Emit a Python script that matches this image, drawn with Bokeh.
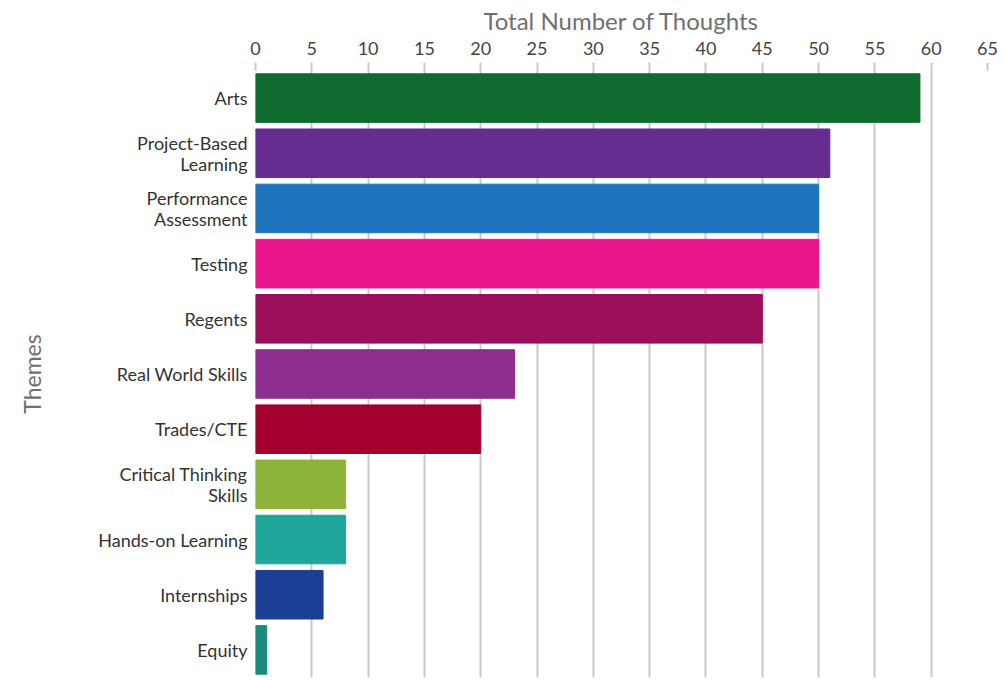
from bokeh.plotting import figure
from bokeh.models import FactorRange, Range1d, FixedTicker, ColumnDataSource
from bokeh.embed import file_html
from bokeh.resources import INLINE

themes = ["Arts", "Project-Based\nLearning", "Performance\nAssessment", "Testing", "Regents",
          "Real World Skills", "Trades/CTE", "Critical Thinking\nSkills", "Hands-on Learning",
          "Internships", "Equity"]
counts = [59, 51, 50, 50, 45, 23, 20, 8, 8, 6, 1]
colors = ["#0f6b30", "#652d90", "#1f75bd", "#ec168c", "#9b0f5b", "#8e2f8f", "#a4002d",
          "#8db33a", "#1ea69a", "#1b3f94", "#1a8a7a"]
x_ticks = list(range(0, 70, 5))

src = ColumnDataSource(dict(theme=themes, count=counts, color=colors))

p = figure(width=1005, height=680, y_range=FactorRange(*reversed(themes)),
           x_range=Range1d(0, 65), x_axis_location="above",
           output_backend="svg", toolbar_location=None,
           min_border_left=255, min_border_right=18, min_border_top=70, min_border_bottom=3)
p.outline_line_color = None
p.hbar(y="theme", right="count", left=0, height=0.88, color="color", source=src)

p.xaxis.ticker = FixedTicker(ticks=x_ticks)
p.xaxis.axis_label = "Total Number of Thoughts"
p.xaxis.axis_label_text_font = "Lato"
p.xaxis.axis_label_text_font_style = "normal"
p.xaxis.axis_label_text_font_size = "24px"
p.xaxis.axis_label_text_color = "#707070"
p.xaxis.axis_label_standoff = 4
p.xaxis.major_label_text_font = "Lato"
p.xaxis.major_label_text_font_size = "18px"
p.xaxis.major_label_text_color = "#444444"
p.xaxis.major_label_standoff = 8
p.xaxis.axis_line_color = None
p.xaxis.major_tick_in = 0
p.xaxis.major_tick_out = 8
p.xaxis.major_tick_line_color = "#c8c8c8"
p.xaxis.major_tick_line_width = 2
p.xaxis.minor_tick_line_color = None

p.yaxis.axis_label = "Themes"
p.yaxis.axis_label_text_font = "Lato"
p.yaxis.axis_label_text_font_style = "normal"
p.yaxis.axis_label_text_font_size = "23px"
p.yaxis.axis_label_text_color = "#707070"
p.yaxis.axis_label_standoff = 49
p.yaxis.major_label_text_font = "Lato"
p.yaxis.major_label_text_font_size = "18px"
p.yaxis.major_label_text_color = "#333333"
p.yaxis.major_label_text_line_height = 0.95
p.yaxis.major_label_standoff = 2
p.yaxis.axis_line_color = None
p.yaxis.major_tick_line_color = None
p.yaxis.minor_tick_line_color = None

p.xgrid.grid_line_color = "#c8c8c8"
p.xgrid.grid_line_width = 2
p.ygrid.grid_line_color = None

open("out.html", "w").write(file_html(p, INLINE))
